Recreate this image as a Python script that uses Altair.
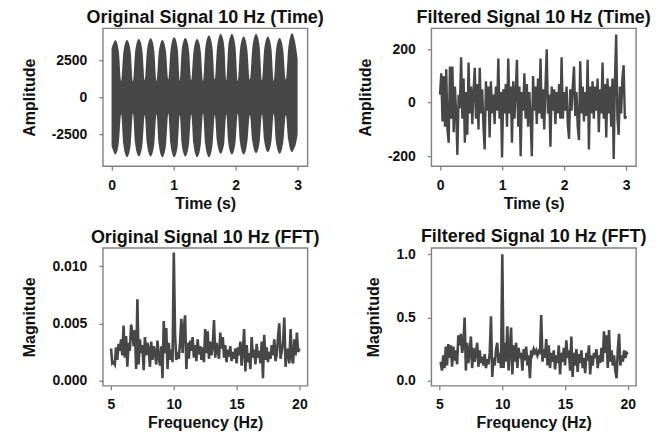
import altair as alt
import pandas as pd

# ---------------- Original signal (time): envelope of the dense 10 Hz oscillation
t_env = [0.00, 0.025, 0.06, 0.095, 0.12, 0.155,
         0.19, 0.215, 0.25, 0.285, 0.31, 0.345,
         0.38, 0.405, 0.44, 0.475, 0.50, 0.535,
         0.57, 0.595, 0.63, 0.665, 0.69, 0.725,
         0.76, 0.785, 0.82, 0.855, 0.88, 0.915,
         0.95, 0.975, 1.01, 1.045, 1.07, 1.10,
         1.13, 1.155, 1.19, 1.225, 1.25, 1.285,
         1.32, 1.345, 1.38, 1.415, 1.44, 1.475,
         1.51, 1.535, 1.57, 1.605, 1.63, 1.665,
         1.70, 1.725, 1.76, 1.795, 1.82, 1.85,
         1.88, 1.905, 1.94, 1.975, 2.00, 2.035,
         2.07, 2.095, 2.13, 2.165, 2.19, 2.23,
         2.27, 2.295, 2.33, 2.365, 2.39, 2.425,
         2.46, 2.485, 2.52, 2.555, 2.58, 2.615,
         2.65, 2.675, 2.71, 2.745, 2.77, 2.81,
         2.85, 2.875, 2.91, 2.945, 2.97, 3.00]
upper = [3300, 3600, 3870, 3600, 3000, 1100,
         3000, 3600, 3870, 3600, 3000, 1050,
         3050, 3660, 3940, 3660, 3050, 1150,
         3100, 3710, 3990, 3710, 3100, 1100,
         3000, 3600, 3870, 3600, 3000, 1200,
         3150, 3770, 4050, 3770, 3150, 1100,
         3120, 3730, 4010, 3730, 3120, 1150,
         3050, 3660, 3940, 3660, 3050, 1100,
         3250, 3880, 4170, 3880, 3250, 1200,
         3330, 3980, 4280, 3980, 3330, 1150,
         3330, 3980, 4280, 3980, 3330, 1100,
         3200, 3810, 4100, 3810, 3200, 1200,
         3330, 3980, 4280, 3980, 3330, 1150,
         3200, 3810, 4100, 3810, 3200, 1100,
         3120, 3730, 4010, 3730, 3120, 1200,
         3370, 4010, 4320, 4010, 3500, 2600]
lower = [-3300, -3600, -3870, -3600, -3000, -1150,
         -3150, -3770, -4050, -3770, -3150, -1100,
         -3120, -3730, -4010, -3730, -3120, -1200,
         -3120, -3730, -4010, -3730, -3120, -1150,
         -3150, -3770, -4050, -3770, -3150, -1100,
         -3150, -3770, -4050, -3770, -3150, -1200,
         -3120, -3730, -4010, -3730, -3120, -1150,
         -3150, -3770, -4050, -3770, -3150, -1100,
         -3150, -3770, -4050, -3770, -3150, -1200,
         -2980, -3560, -3830, -3560, -2980, -1150,
         -3000, -3600, -3870, -3600, -3000, -1100,
         -3000, -3600, -3870, -3600, -3000, -1200,
         -2950, -3520, -3780, -3520, -2950, -1150,
         -2900, -3460, -3720, -3460, -2900, -1100,
         -2980, -3560, -3830, -3560, -2980, -1200,
         -2900, -3460, -3720, -3460, -3200, -2500]

# ---------------- Filtered signal (time), sampled every 0.02 s
t_filt = [round(i * 0.02, 2) for i in range(151)]
filt_vals = [30, 110, -70, 100, -90, 125, -100, -150, 135, -60,
             135, -110, 60, -40, -195, 30, -20, 170, -60, 90,
             -150, 40, -120, 150, -40, 60, -80, 40, 130, -60,
             70, -100, 130, -40, 50, -90, -175, 80, -30, 60,
             -130, 80, -40, 30, -80, 60, -30, 165, -60, 40,
             -205, 50, -40, 70, -90, 165, -40, 60, -150, 80,
             -60, 40, 160, -90, 60, -200, 40, -30, 110, -60,
             70, -90, 40, -60, -200, 100, -30, 60, -80, 90,
             -40, 165, -60, 50, -100, 60, 200, -40, 30, -165,
             60, -30, 50, -80, 40, -40, 70, -60, 170, -60,
             40, -30, 60, -80, -135, 50, -30, 60, 135, -50,
             40, -90, -140, 155, -40, 60, -70, 40, -50, 160,
             -175, 60, -40, 80, -60, 60, -30, 90, -110, 50,
             -40, 150, -60, 70, -130, 90, -40, 60, -90, 90,
             -210, 80, 255, -60, -120, 60, -40, 90, 140, -60,
             -50]

# ---------------- FFT magnitudes, 5 to 20 Hz every 0.1 Hz
freq = [round(5 + i * 0.1, 1) for i in range(151)]
fft_orig = [0.0028, 0.0015, 0.0016, 0.0014, 0.0029, 0.0018, 0.0032, 0.0026, 0.0036, 0.0022,
            0.0048, 0.0020, 0.0039, 0.0012, 0.0033, 0.0026, 0.0049, 0.0042, 0.0030, 0.0044,
            0.0010, 0.0071, 0.0014, 0.0036, 0.0024, 0.0031, 0.0009, 0.0038, 0.0022, 0.0033,
            0.0027, 0.0012, 0.0034, 0.0018, 0.0030, 0.0025, 0.0014, 0.0035, 0.0020, 0.0013,
            0.0030, 0.0002, 0.0052, 0.0024, 0.0046, 0.0010, 0.0033, 0.0018, 0.0027, 0.0016,
            0.0112, 0.0040, 0.0018, 0.0025, 0.0019, 0.0034, 0.0054, 0.0024, 0.0046, 0.0057,
            0.0010, 0.0033, 0.0019, 0.0035, 0.0026, 0.0038, 0.0020, 0.0031, 0.0017, 0.0036,
            0.0023, 0.0030, 0.0018, 0.0029, 0.0016, 0.0045, 0.0024, 0.0043, 0.0019, 0.0034,
            0.0022, 0.0030, 0.0053, 0.0020, 0.0033, 0.0026, 0.0019, 0.0042, 0.0028, 0.0038,
            0.0020, 0.0031, 0.0016, 0.0027, 0.0021, 0.0030, 0.0017, 0.0025, 0.0019, 0.0028,
            0.0015, 0.0029, 0.0022, 0.0034, 0.0013, 0.0026, 0.0045, 0.0008, 0.0031, 0.0016,
            0.0024, 0.0010, 0.0038, 0.0020, 0.0027, 0.0014, 0.0032, 0.0020, 0.0026, 0.0015,
            0.0034, 0.0002, 0.0040, 0.0018, 0.0029, 0.0016, 0.0025, 0.0019, 0.0031, 0.0022,
            0.0036, 0.0017, 0.0023, 0.0038, 0.0050, 0.0019, 0.0026, 0.0033, 0.0055, 0.0012,
            0.0024, 0.0028, 0.0015, 0.0045, 0.0020, 0.0015, 0.0036, 0.0022, 0.0042, 0.0025,
            0.0028]
fft_filt = [0.14, 0.14, 0.08, 0.20, 0.10, 0.27, 0.12, 0.29, 0.18, 0.28,
            0.11, 0.27, 0.16, 0.24, 0.13, 0.36, 0.28, 0.37, 0.22, 0.28,
            0.50, 0.08, 0.30, 0.14, 0.22, 0.35, 0.10, 0.26, 0.15, 0.22,
            0.30, 0.11, 0.24, 0.14, 0.19, 0.12, 0.21, 0.10, 0.17, 0.13,
            0.22, 0.51, 0.03, 0.18, 0.12, 0.25, 0.30, 0.14, 0.22, 0.10,
            1.00, 0.10, 0.30, 0.15, 0.43, 0.08, 0.25, 0.42, 0.05, 0.28,
            0.15, 0.30, 0.10, 0.26, 0.18, 0.22, 0.08, 0.25, 0.16, 0.27,
            0.12, 0.20, 0.02, 0.24, 0.21, 0.25, 0.22, 0.24, 0.20, 0.23,
            0.21, 0.52, 0.15, 0.25, 0.18, 0.33, 0.12, 0.28, 0.10, 0.22,
            0.15, 0.24, 0.09, 0.20, 0.14, 0.28, 0.05, 0.22, 0.15, 0.26,
            0.12, 0.32, 0.18, 0.24, 0.08, 0.35, 0.03, 0.22, 0.12, 0.25,
            0.07, 0.21, 0.14, 0.24, 0.10, 0.18, 0.06, 0.22, 0.16, 0.28,
            0.05, 0.20, 0.12, 0.22, 0.18, 0.25, 0.10, 0.20, 0.14, 0.26,
            0.15, 0.39, 0.22, 0.36, 0.10, 0.40, 0.15, 0.24, 0.12, 0.20,
            0.08, 0.02, 0.25, 0.37, 0.12, 0.20, 0.15, 0.24, 0.18, 0.22,
            0.21]

LINE = "#474747"
W, H = 205, 138
FONT = "Liberation Sans"

df_env = pd.DataFrame({"t": t_env, "up": upper, "lo": lower})
df_filt = pd.DataFrame({"t": t_filt, "v": filt_vals})
df_fo = pd.DataFrame({"f": freq, "m": fft_orig})
df_ff = pd.DataFrame({"f": freq, "m": fft_filt})

time_x = alt.X("t:Q", scale=alt.Scale(domain=[-0.14, 3.16], nice=False, zero=False),
               axis=alt.Axis(values=[0, 1, 2, 3], title="Time (s)"))
freq_x = alt.X("f:Q", scale=alt.Scale(domain=[4.35, 20.65], nice=False, zero=False),
               axis=alt.Axis(values=[5, 10, 15, 20], title="Frequency (Hz)"))

def ttl(text):
    return alt.TitleParams(text=text, offset=1)

tl = alt.Chart(df_env).mark_area(color=LINE, interpolate="monotone", clip=True).encode(
    x=time_x,
    y=alt.Y("up:Q", scale=alt.Scale(domain=[-4660, 4660], nice=False, zero=False),
            axis=alt.Axis(values=[-2500, 0, 2500], labelExpr="'' + datum.value", title="Amplitude")),
    y2="lo:Q",
).properties(width=W, height=H, title=ttl("Original Signal 10 Hz (Time)"))

tr = alt.Chart(df_filt).mark_line(color=LINE, strokeWidth=2.4, clip=True).encode(
    x=time_x,
    y=alt.Y("v:Q", scale=alt.Scale(domain=[-237, 278], nice=False, zero=False),
            axis=alt.Axis(values=[-200, 0, 200], labelExpr="'' + datum.value", title="Amplitude")),
).properties(width=W, height=H, title=ttl("Filtered Signal 10 Hz (Time)"))

bl = alt.Chart(df_fo).mark_line(color=LINE, strokeWidth=2.6, clip=True).encode(
    x=freq_x,
    y=alt.Y("m:Q", scale=alt.Scale(domain=[-0.00046, 0.0116], nice=False, zero=False),
            axis=alt.Axis(values=[0, 0.005, 0.01], format=".3f", title="Magnitude")),
).properties(width=W, height=H, title=ttl("Original Signal 10 Hz (FFT)"))

br = alt.Chart(df_ff).mark_line(color=LINE, strokeWidth=2.6, clip=True).encode(
    x=freq_x,
    y=alt.Y("m:Q", scale=alt.Scale(domain=[-0.04, 1.05], nice=False, zero=False),
            axis=alt.Axis(values=[0, 0.5, 1.0], format=".1f", title="Magnitude")),
).properties(width=W, height=H, title=ttl("Filtered Signal 10 Hz (FFT)"))

chart = alt.concat(tl, tr, bl, br, columns=2,
                   spacing={"row": 82, "column": 124}, bounds="flush").properties(
    padding={"left": 12, "top": 0, "right": 5, "bottom": 5},
    background="white",
).configure_view(
    stroke="#808080", strokeWidth=1.4
).configure_axis(
    grid=False, domain=False, tickColor="#808080", tickSize=4, tickWidth=1.3,
    labelFont=FONT, labelFontSize=14, labelFontWeight="bold", labelColor="#111",
    titleFont=FONT, titleFontSize=16, titleFontWeight="bold", titleColor="#111",
).configure_axisY(
    labelPadding=12, titlePadding=14
).configure_axisX(
    labelPadding=8, titlePadding=3
).configure_title(
    font=FONT, fontSize=18, fontWeight="bold", color="#111", anchor="middle"
)

chart.save("out.html", embed_options={"renderer": "svg", "actions": False})
